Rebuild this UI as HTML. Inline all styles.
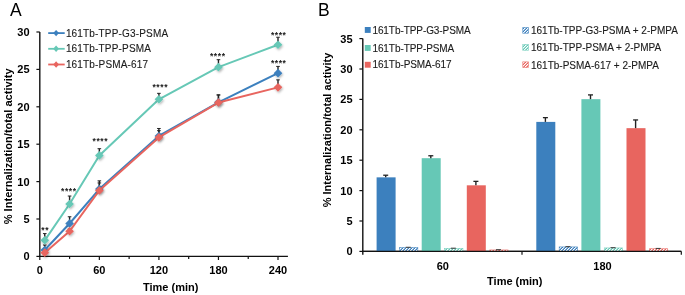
<!DOCTYPE html>
<html><head><meta charset="utf-8"><style>
html,body{margin:0;padding:0;background:#fff;width:685px;height:295px;overflow:hidden}
svg{display:block;will-change:transform}
text{font-family:"Liberation Sans",sans-serif}
</style></head><body>
<svg width="685" height="295" viewBox="0 0 685 295">
<rect width="685" height="295" fill="#fff"/>
<text x="10.1" y="15.8" font-size="17.5" font-family="Liberation Sans, sans-serif" fill="#000">A</text>
<line x1="39.8" y1="32.0" x2="39.8" y2="257.09999999999997" stroke="#111" stroke-width="1.4"/>
<line x1="39.099999999999994" y1="256.4" x2="287.925" y2="256.4" stroke="#111" stroke-width="1.4"/>
<line x1="36.4" y1="256.40" x2="39.8" y2="256.40" stroke="#111" stroke-width="1.2"/>
<text x="29.6" y="260.30" font-size="11" font-weight="bold" text-anchor="end" font-family="Liberation Sans, sans-serif">0</text>
<line x1="36.4" y1="219.00" x2="39.8" y2="219.00" stroke="#111" stroke-width="1.2"/>
<text x="29.6" y="222.90" font-size="11" font-weight="bold" text-anchor="end" font-family="Liberation Sans, sans-serif">5</text>
<line x1="36.4" y1="181.60" x2="39.8" y2="181.60" stroke="#111" stroke-width="1.2"/>
<text x="29.6" y="185.50" font-size="11" font-weight="bold" text-anchor="end" font-family="Liberation Sans, sans-serif">10</text>
<line x1="36.4" y1="144.20" x2="39.8" y2="144.20" stroke="#111" stroke-width="1.2"/>
<text x="29.6" y="148.10" font-size="11" font-weight="bold" text-anchor="end" font-family="Liberation Sans, sans-serif">15</text>
<line x1="36.4" y1="106.80" x2="39.8" y2="106.80" stroke="#111" stroke-width="1.2"/>
<text x="29.6" y="110.70" font-size="11" font-weight="bold" text-anchor="end" font-family="Liberation Sans, sans-serif">20</text>
<line x1="36.4" y1="69.40" x2="39.8" y2="69.40" stroke="#111" stroke-width="1.2"/>
<text x="29.6" y="73.30" font-size="11" font-weight="bold" text-anchor="end" font-family="Liberation Sans, sans-serif">25</text>
<line x1="36.4" y1="32.00" x2="39.8" y2="32.00" stroke="#111" stroke-width="1.2"/>
<text x="29.6" y="35.90" font-size="11" font-weight="bold" text-anchor="end" font-family="Liberation Sans, sans-serif">30</text>
<line x1="39.80" y1="256.4" x2="39.80" y2="260.0" stroke="#111" stroke-width="1.2"/>
<text x="39.80" y="274.4" font-size="11" font-weight="bold" text-anchor="middle" font-family="Liberation Sans, sans-serif">0</text>
<line x1="69.58" y1="256.4" x2="69.58" y2="258.9" stroke="#111" stroke-width="1.2"/>
<line x1="99.35" y1="256.4" x2="99.35" y2="260.0" stroke="#111" stroke-width="1.2"/>
<text x="99.35" y="274.4" font-size="11" font-weight="bold" text-anchor="middle" font-family="Liberation Sans, sans-serif">60</text>
<line x1="129.12" y1="256.4" x2="129.12" y2="258.9" stroke="#111" stroke-width="1.2"/>
<line x1="158.90" y1="256.4" x2="158.90" y2="260.0" stroke="#111" stroke-width="1.2"/>
<text x="158.90" y="274.4" font-size="11" font-weight="bold" text-anchor="middle" font-family="Liberation Sans, sans-serif">120</text>
<line x1="188.68" y1="256.4" x2="188.68" y2="258.9" stroke="#111" stroke-width="1.2"/>
<line x1="218.45" y1="256.4" x2="218.45" y2="260.0" stroke="#111" stroke-width="1.2"/>
<text x="218.45" y="274.4" font-size="11" font-weight="bold" text-anchor="middle" font-family="Liberation Sans, sans-serif">180</text>
<line x1="248.23" y1="256.4" x2="248.23" y2="258.9" stroke="#111" stroke-width="1.2"/>
<line x1="278.00" y1="256.4" x2="278.00" y2="260.0" stroke="#111" stroke-width="1.2"/>
<text x="278.00" y="274.4" font-size="11" font-weight="bold" text-anchor="middle" font-family="Liberation Sans, sans-serif">240</text>
<text x="170.7" y="290.6" font-size="11" font-weight="bold" text-anchor="middle" font-family="Liberation Sans, sans-serif">Time (min)</text>
<text transform="translate(11.6,146.35) rotate(-90)" x="0" y="0" font-size="11.1" font-weight="bold" text-anchor="middle" font-family="Liberation Sans, sans-serif">% Internalization/total activity</text>
<line x1="44.76" y1="250.04" x2="44.76" y2="245.03" stroke="#222" stroke-width="1.4"/>
<line x1="42.96" y1="245.03" x2="46.56" y2="245.03" stroke="#222" stroke-width="1"/>
<line x1="69.58" y1="223.49" x2="69.58" y2="216.76" stroke="#222" stroke-width="1.4"/>
<line x1="67.78" y1="216.76" x2="71.38" y2="216.76" stroke="#222" stroke-width="1"/>
<line x1="99.35" y1="189.08" x2="99.35" y2="180.85" stroke="#222" stroke-width="1.4"/>
<line x1="97.55" y1="180.85" x2="101.15" y2="180.85" stroke="#222" stroke-width="1"/>
<line x1="158.90" y1="135.97" x2="158.90" y2="128.49" stroke="#222" stroke-width="1.4"/>
<line x1="157.10" y1="128.49" x2="160.70" y2="128.49" stroke="#222" stroke-width="1"/>
<line x1="218.45" y1="102.31" x2="218.45" y2="94.83" stroke="#222" stroke-width="1.4"/>
<line x1="216.65" y1="94.83" x2="220.25" y2="94.83" stroke="#222" stroke-width="1"/>
<line x1="278.00" y1="73.14" x2="278.00" y2="66.41" stroke="#222" stroke-width="1.4"/>
<line x1="276.20" y1="66.41" x2="279.80" y2="66.41" stroke="#222" stroke-width="1"/>
<line x1="44.76" y1="240.32" x2="44.76" y2="233.59" stroke="#222" stroke-width="1.4"/>
<line x1="42.96" y1="233.59" x2="46.56" y2="233.59" stroke="#222" stroke-width="1"/>
<line x1="69.58" y1="204.04" x2="69.58" y2="196.04" stroke="#222" stroke-width="1.4"/>
<line x1="67.78" y1="196.04" x2="71.38" y2="196.04" stroke="#222" stroke-width="1"/>
<line x1="99.35" y1="155.42" x2="99.35" y2="148.69" stroke="#222" stroke-width="1.4"/>
<line x1="97.55" y1="148.69" x2="101.15" y2="148.69" stroke="#222" stroke-width="1"/>
<line x1="158.90" y1="99.32" x2="158.90" y2="93.34" stroke="#222" stroke-width="1.4"/>
<line x1="157.10" y1="93.34" x2="160.70" y2="93.34" stroke="#222" stroke-width="1"/>
<line x1="218.45" y1="67.16" x2="218.45" y2="59.68" stroke="#222" stroke-width="1.4"/>
<line x1="216.65" y1="59.68" x2="220.25" y2="59.68" stroke="#222" stroke-width="1"/>
<line x1="278.00" y1="44.72" x2="278.00" y2="37.24" stroke="#222" stroke-width="1.4"/>
<line x1="276.20" y1="37.24" x2="279.80" y2="37.24" stroke="#222" stroke-width="1"/>
<line x1="44.76" y1="252.66" x2="44.76" y2="249.67" stroke="#222" stroke-width="1.4"/>
<line x1="42.96" y1="249.67" x2="46.56" y2="249.67" stroke="#222" stroke-width="1"/>
<line x1="69.58" y1="231.27" x2="69.58" y2="229.02" stroke="#222" stroke-width="1.4"/>
<line x1="67.78" y1="229.02" x2="71.38" y2="229.02" stroke="#222" stroke-width="1"/>
<line x1="99.35" y1="190.43" x2="99.35" y2="182.95" stroke="#222" stroke-width="1.4"/>
<line x1="97.55" y1="182.95" x2="101.15" y2="182.95" stroke="#222" stroke-width="1"/>
<line x1="158.90" y1="137.39" x2="158.90" y2="130.66" stroke="#222" stroke-width="1.4"/>
<line x1="157.10" y1="130.66" x2="160.70" y2="130.66" stroke="#222" stroke-width="1"/>
<line x1="218.45" y1="102.54" x2="218.45" y2="95.06" stroke="#222" stroke-width="1.4"/>
<line x1="216.65" y1="95.06" x2="220.25" y2="95.06" stroke="#222" stroke-width="1"/>
<line x1="278.00" y1="87.35" x2="278.00" y2="79.87" stroke="#222" stroke-width="1.4"/>
<line x1="276.20" y1="79.87" x2="279.80" y2="79.87" stroke="#222" stroke-width="1"/>
<polyline points="44.76,250.04 69.58,223.49 99.35,189.08 158.90,135.97 218.45,102.31 278.00,73.14" fill="none" stroke="#3c80be" stroke-width="2" stroke-linejoin="round"/>
<path d="M44.76 245.74L49.06 250.04L44.76 254.34L40.46 250.04Z" fill="#3c80be" filter="url(#sh)"/>
<path d="M69.58 219.19L73.88 223.49L69.58 227.79L65.28 223.49Z" fill="#3c80be" filter="url(#sh)"/>
<path d="M99.35 184.78L103.65 189.08L99.35 193.38L95.05 189.08Z" fill="#3c80be" filter="url(#sh)"/>
<path d="M158.90 131.67L163.20 135.97L158.90 140.27L154.60 135.97Z" fill="#3c80be" filter="url(#sh)"/>
<path d="M218.45 98.01L222.75 102.31L218.45 106.61L214.15 102.31Z" fill="#3c80be" filter="url(#sh)"/>
<path d="M278.00 68.84L282.30 73.14L278.00 77.44L273.70 73.14Z" fill="#3c80be" filter="url(#sh)"/>
<polyline points="44.76,240.32 69.58,204.04 99.35,155.42 158.90,99.32 218.45,67.16 278.00,44.72" fill="none" stroke="#66c8b6" stroke-width="2" stroke-linejoin="round"/>
<path d="M44.76 236.02L49.06 240.32L44.76 244.62L40.46 240.32Z" fill="#66c8b6" filter="url(#sh)"/>
<path d="M69.58 199.74L73.88 204.04L69.58 208.34L65.28 204.04Z" fill="#66c8b6" filter="url(#sh)"/>
<path d="M99.35 151.12L103.65 155.42L99.35 159.72L95.05 155.42Z" fill="#66c8b6" filter="url(#sh)"/>
<path d="M158.90 95.02L163.20 99.32L158.90 103.62L154.60 99.32Z" fill="#66c8b6" filter="url(#sh)"/>
<path d="M218.45 62.86L222.75 67.16L218.45 71.46L214.15 67.16Z" fill="#66c8b6" filter="url(#sh)"/>
<path d="M278.00 40.42L282.30 44.72L278.00 49.02L273.70 44.72Z" fill="#66c8b6" filter="url(#sh)"/>
<polyline points="44.76,252.66 69.58,231.27 99.35,190.43 158.90,137.39 218.45,102.54 278.00,87.35" fill="none" stroke="#e8655f" stroke-width="2" stroke-linejoin="round"/>
<path d="M44.76 248.36L49.06 252.66L44.76 256.96L40.46 252.66Z" fill="#e8655f" filter="url(#sh)"/>
<path d="M69.58 226.97L73.88 231.27L69.58 235.57L65.28 231.27Z" fill="#e8655f" filter="url(#sh)"/>
<path d="M99.35 186.13L103.65 190.43L99.35 194.73L95.05 190.43Z" fill="#e8655f" filter="url(#sh)"/>
<path d="M158.90 133.09L163.20 137.39L158.90 141.69L154.60 137.39Z" fill="#e8655f" filter="url(#sh)"/>
<path d="M218.45 98.24L222.75 102.54L218.45 106.84L214.15 102.54Z" fill="#e8655f" filter="url(#sh)"/>
<path d="M278.00 83.05L282.30 87.35L278.00 91.65L273.70 87.35Z" fill="#e8655f" filter="url(#sh)"/>
<text x="45.20" y="233.10" font-size="8.5" letter-spacing="0.6" font-weight="bold" text-anchor="middle" fill="#1a1a1a" font-family="Liberation Sans, sans-serif">**</text>
<text x="68.85" y="193.60" font-size="8.5" letter-spacing="0.6" font-weight="bold" text-anchor="middle" fill="#1a1a1a" font-family="Liberation Sans, sans-serif">****</text>
<text x="100.35" y="144.30" font-size="8.5" letter-spacing="0.6" font-weight="bold" text-anchor="middle" fill="#1a1a1a" font-family="Liberation Sans, sans-serif">****</text>
<text x="160.25" y="90.10" font-size="8.5" letter-spacing="0.6" font-weight="bold" text-anchor="middle" fill="#1a1a1a" font-family="Liberation Sans, sans-serif">****</text>
<text x="217.75" y="58.50" font-size="8.5" letter-spacing="0.6" font-weight="bold" text-anchor="middle" fill="#1a1a1a" font-family="Liberation Sans, sans-serif">****</text>
<text x="278.70" y="37.90" font-size="8.5" letter-spacing="0.6" font-weight="bold" text-anchor="middle" fill="#1a1a1a" font-family="Liberation Sans, sans-serif">****</text>
<text x="278.70" y="66.10" font-size="8.5" letter-spacing="0.6" font-weight="bold" text-anchor="middle" fill="#1a1a1a" font-family="Liberation Sans, sans-serif">****</text>
<line x1="48.2" y1="33.1" x2="64.7" y2="33.1" stroke="#3c80be" stroke-width="1.8"/>
<path d="M56.1 29.90L59.0 33.10L56.1 36.30L53.2 33.10Z" fill="#3c80be"/>
<text x="65.9" y="36.70" font-size="10" letter-spacing="0.17" font-family="Liberation Sans, sans-serif" fill="#1c1c1c" stroke="#1c1c1c" stroke-width="0.12">161Tb-TPP-G3-PSMA</text>
<line x1="48.2" y1="48.8" x2="64.7" y2="48.8" stroke="#66c8b6" stroke-width="1.8"/>
<path d="M56.1 45.60L59.0 48.80L56.1 52.00L53.2 48.80Z" fill="#66c8b6"/>
<text x="65.9" y="52.40" font-size="10" letter-spacing="0.17" font-family="Liberation Sans, sans-serif" fill="#1c1c1c" stroke="#1c1c1c" stroke-width="0.12">161Tb-TPP-PSMA</text>
<line x1="48.2" y1="64.5" x2="64.7" y2="64.5" stroke="#e8655f" stroke-width="1.8"/>
<path d="M56.1 61.30L59.0 64.50L56.1 67.70L53.2 64.50Z" fill="#e8655f"/>
<text x="65.9" y="68.10" font-size="10" letter-spacing="0.17" font-family="Liberation Sans, sans-serif" fill="#1c1c1c" stroke="#1c1c1c" stroke-width="0.12">161Tb-PSMA-617</text>
<text x="317.9" y="15.7" font-size="17.5" font-family="Liberation Sans, sans-serif" fill="#000">B</text>
<line x1="362.8" y1="38.599999999999994" x2="362.8" y2="254.70000000000002" stroke="#111" stroke-width="1.4"/>
<line x1="362.1" y1="251.4" x2="681.3" y2="251.4" stroke="#111" stroke-width="1.4"/>
<line x1="522.0" y1="251.4" x2="522.0" y2="254.70000000000002" stroke="#111" stroke-width="1.2"/>
<line x1="681.3" y1="251.4" x2="681.3" y2="254.70000000000002" stroke="#111" stroke-width="1.2"/>
<line x1="359.40000000000003" y1="251.40" x2="362.8" y2="251.40" stroke="#111" stroke-width="1.2"/>
<text x="352.6" y="255.30" font-size="11" font-weight="bold" text-anchor="end" font-family="Liberation Sans, sans-serif">0</text>
<line x1="359.40000000000003" y1="221.00" x2="362.8" y2="221.00" stroke="#111" stroke-width="1.2"/>
<text x="352.6" y="224.90" font-size="11" font-weight="bold" text-anchor="end" font-family="Liberation Sans, sans-serif">5</text>
<line x1="359.40000000000003" y1="190.60" x2="362.8" y2="190.60" stroke="#111" stroke-width="1.2"/>
<text x="352.6" y="194.50" font-size="11" font-weight="bold" text-anchor="end" font-family="Liberation Sans, sans-serif">10</text>
<line x1="359.40000000000003" y1="160.20" x2="362.8" y2="160.20" stroke="#111" stroke-width="1.2"/>
<text x="352.6" y="164.10" font-size="11" font-weight="bold" text-anchor="end" font-family="Liberation Sans, sans-serif">15</text>
<line x1="359.40000000000003" y1="129.80" x2="362.8" y2="129.80" stroke="#111" stroke-width="1.2"/>
<text x="352.6" y="133.70" font-size="11" font-weight="bold" text-anchor="end" font-family="Liberation Sans, sans-serif">20</text>
<line x1="359.40000000000003" y1="99.40" x2="362.8" y2="99.40" stroke="#111" stroke-width="1.2"/>
<text x="352.6" y="103.30" font-size="11" font-weight="bold" text-anchor="end" font-family="Liberation Sans, sans-serif">25</text>
<line x1="359.40000000000003" y1="69.00" x2="362.8" y2="69.00" stroke="#111" stroke-width="1.2"/>
<text x="352.6" y="72.90" font-size="11" font-weight="bold" text-anchor="end" font-family="Liberation Sans, sans-serif">30</text>
<line x1="359.40000000000003" y1="38.60" x2="362.8" y2="38.60" stroke="#111" stroke-width="1.2"/>
<text x="352.6" y="42.50" font-size="11" font-weight="bold" text-anchor="end" font-family="Liberation Sans, sans-serif">35</text>
<text x="442.8" y="270.2" font-size="11" font-weight="bold" text-anchor="middle" font-family="Liberation Sans, sans-serif">60</text>
<text x="602.5" y="270.2" font-size="11" font-weight="bold" text-anchor="middle" font-family="Liberation Sans, sans-serif">180</text>
<text x="514.8" y="284.8" font-size="11" font-weight="bold" text-anchor="middle" font-family="Liberation Sans, sans-serif">Time (min)</text>
<text transform="translate(331.0,130.0) rotate(-90)" x="0" y="0" font-size="11" font-weight="bold" text-anchor="middle" font-family="Liberation Sans, sans-serif">% Internalization/total activity</text>
<defs><filter id="sh" x="-50%" y="-50%" width="200%" height="200%"><feDropShadow dx="0.8" dy="1.3" stdDeviation="0.9" flood-color="#000" flood-opacity="0.3"/></filter>
<pattern id="hb" patternUnits="userSpaceOnUse" x="0" y="0" width="3" height="3" shape-rendering="crispEdges"><rect width="3" height="3" fill="#3c80be"/><rect x="0" y="0" width="1" height="1" fill="#fff"/><rect x="2" y="1" width="1" height="1" fill="#fff"/><rect x="1" y="2" width="1" height="1" fill="#fff"/><rect x="1" y="0" width="1" height="1" fill="#fff" fill-opacity="0.45"/><rect x="0" y="1" width="1" height="1" fill="#fff" fill-opacity="0.45"/><rect x="2" y="2" width="1" height="1" fill="#fff" fill-opacity="0.45"/></pattern>
<pattern id="ht" patternUnits="userSpaceOnUse" x="0" y="0" width="3" height="3" shape-rendering="crispEdges"><rect width="3" height="3" fill="#66c8b6"/><rect x="0" y="0" width="1" height="1" fill="#fff"/><rect x="2" y="1" width="1" height="1" fill="#fff"/><rect x="1" y="2" width="1" height="1" fill="#fff"/><rect x="1" y="0" width="1" height="1" fill="#fff" fill-opacity="0.45"/><rect x="0" y="1" width="1" height="1" fill="#fff" fill-opacity="0.45"/><rect x="2" y="2" width="1" height="1" fill="#fff" fill-opacity="0.45"/></pattern>
<pattern id="hr" patternUnits="userSpaceOnUse" x="0" y="0" width="3" height="3" shape-rendering="crispEdges"><rect width="3" height="3" fill="#e8655f"/><rect x="0" y="0" width="1" height="1" fill="#fff"/><rect x="2" y="1" width="1" height="1" fill="#fff"/><rect x="1" y="2" width="1" height="1" fill="#fff"/><rect x="1" y="0" width="1" height="1" fill="#fff" fill-opacity="0.45"/><rect x="0" y="1" width="1" height="1" fill="#fff" fill-opacity="0.45"/><rect x="2" y="2" width="1" height="1" fill="#fff" fill-opacity="0.45"/></pattern>
</defs>
<rect x="376.60" y="177.35" width="19.0" height="74.05" fill="#3c80be"/>
<line x1="385.70" y1="177.35" x2="385.70" y2="175.22" stroke="#222" stroke-width="1.4"/>
<line x1="383.20" y1="175.22" x2="388.20" y2="175.22" stroke="#222" stroke-width="1.3"/>
<rect x="399.50" y="247.55" width="18.30" height="3.85" fill="url(#hb)" stroke="#3c80be" stroke-width="0.7" stroke-opacity="0.75"/>
<line x1="408.25" y1="247.20" x2="408.25" y2="247.20" stroke="#222" stroke-width="1.4"/>
<line x1="405.75" y1="247.30" x2="410.75" y2="247.30" stroke="#444" stroke-width="1.1"/>
<rect x="421.70" y="158.19" width="19.0" height="93.21" fill="#66c8b6"/>
<line x1="430.80" y1="158.19" x2="430.80" y2="155.76" stroke="#222" stroke-width="1.4"/>
<line x1="428.30" y1="155.76" x2="433.30" y2="155.76" stroke="#222" stroke-width="1.3"/>
<rect x="444.60" y="248.47" width="18.30" height="2.93" fill="url(#ht)" stroke="#66c8b6" stroke-width="0.7" stroke-opacity="0.75"/>
<line x1="453.35" y1="248.12" x2="453.35" y2="248.12" stroke="#222" stroke-width="1.4"/>
<line x1="450.85" y1="248.22" x2="455.85" y2="248.22" stroke="#444" stroke-width="1.1"/>
<rect x="466.80" y="185.31" width="19.0" height="66.09" fill="#e8655f"/>
<line x1="475.90" y1="185.31" x2="475.90" y2="181.36" stroke="#222" stroke-width="1.4"/>
<line x1="473.40" y1="181.36" x2="478.40" y2="181.36" stroke="#222" stroke-width="1.3"/>
<rect x="489.70" y="249.93" width="18.30" height="1.47" fill="url(#hr)" stroke="#e8655f" stroke-width="0.7" stroke-opacity="0.75"/>
<line x1="498.45" y1="249.58" x2="498.45" y2="249.58" stroke="#222" stroke-width="1.4"/>
<line x1="495.95" y1="249.68" x2="500.95" y2="249.68" stroke="#444" stroke-width="1.1"/>
<rect x="536.30" y="121.90" width="19.0" height="129.50" fill="#3c80be"/>
<line x1="545.40" y1="121.90" x2="545.40" y2="117.64" stroke="#222" stroke-width="1.4"/>
<line x1="542.90" y1="117.64" x2="547.90" y2="117.64" stroke="#222" stroke-width="1.3"/>
<rect x="559.20" y="246.89" width="18.30" height="4.51" fill="url(#hb)" stroke="#3c80be" stroke-width="0.7" stroke-opacity="0.75"/>
<line x1="567.95" y1="246.54" x2="567.95" y2="246.54" stroke="#222" stroke-width="1.4"/>
<line x1="565.45" y1="246.64" x2="570.45" y2="246.64" stroke="#444" stroke-width="1.1"/>
<rect x="581.40" y="99.16" width="19.0" height="152.24" fill="#66c8b6"/>
<line x1="590.50" y1="99.16" x2="590.50" y2="94.90" stroke="#222" stroke-width="1.4"/>
<line x1="588.00" y1="94.90" x2="593.00" y2="94.90" stroke="#222" stroke-width="1.3"/>
<rect x="604.30" y="247.92" width="18.30" height="3.48" fill="url(#ht)" stroke="#66c8b6" stroke-width="0.7" stroke-opacity="0.75"/>
<line x1="613.05" y1="247.57" x2="613.05" y2="247.57" stroke="#222" stroke-width="1.4"/>
<line x1="610.55" y1="247.67" x2="615.55" y2="247.67" stroke="#444" stroke-width="1.1"/>
<rect x="626.50" y="128.16" width="19.0" height="123.24" fill="#e8655f"/>
<line x1="635.60" y1="128.16" x2="635.60" y2="119.95" stroke="#222" stroke-width="1.4"/>
<line x1="633.10" y1="119.95" x2="638.10" y2="119.95" stroke="#222" stroke-width="1.3"/>
<rect x="649.40" y="248.71" width="18.30" height="2.69" fill="url(#hr)" stroke="#e8655f" stroke-width="0.7" stroke-opacity="0.75"/>
<line x1="658.15" y1="248.36" x2="658.15" y2="248.36" stroke="#222" stroke-width="1.4"/>
<line x1="655.65" y1="248.46" x2="660.65" y2="248.46" stroke="#444" stroke-width="1.1"/>
<line x1="362.1" y1="251.4" x2="681.3" y2="251.4" stroke="#111" stroke-width="1.4"/>
<rect x="364.8" y="27.00" width="5.9" height="5.9" fill="#3c80be"/>
<text x="372.4" y="33.50" font-size="10" letter-spacing="-0.07" font-family="Liberation Sans, sans-serif" fill="#1c1c1c" stroke="#1c1c1c" stroke-width="0.12">161Tb-TPP-G3-PSMA</text>
<rect x="364.8" y="45.00" width="5.9" height="5.9" fill="#66c8b6"/>
<text x="372.4" y="51.50" font-size="10" letter-spacing="-0.07" font-family="Liberation Sans, sans-serif" fill="#1c1c1c" stroke="#1c1c1c" stroke-width="0.12">161Tb-TPP-PSMA</text>
<rect x="364.8" y="61.80" width="5.9" height="5.9" fill="#e8655f"/>
<text x="372.4" y="68.30" font-size="10" letter-spacing="-0.07" font-family="Liberation Sans, sans-serif" fill="#1c1c1c" stroke="#1c1c1c" stroke-width="0.12">161Tb-PSMA-617</text>
<rect x="522.75" y="27.55" width="5.7" height="5.7" fill="url(#hb)" stroke="#3c80be" stroke-width="0.7" stroke-opacity="0.75"/>
<text x="531.0" y="34.20" font-size="10" font-family="Liberation Sans, sans-serif" fill="#1c1c1c" stroke="#1c1c1c" stroke-width="0.12">161Tb-TPP-G3-PSMA + 2-PMPA</text>
<rect x="522.75" y="44.55" width="5.7" height="5.7" fill="url(#ht)" stroke="#66c8b6" stroke-width="0.7" stroke-opacity="0.75"/>
<text x="531.0" y="51.20" font-size="10" font-family="Liberation Sans, sans-serif" fill="#1c1c1c" stroke="#1c1c1c" stroke-width="0.12">161Tb-TPP-PSMA + 2-PMPA</text>
<rect x="522.75" y="61.85" width="5.7" height="5.7" fill="url(#hr)" stroke="#e8655f" stroke-width="0.7" stroke-opacity="0.75"/>
<text x="531.0" y="68.50" font-size="10" font-family="Liberation Sans, sans-serif" fill="#1c1c1c" stroke="#1c1c1c" stroke-width="0.12">161Tb-PSMA-617 + 2-PMPA</text>
</svg>
</body></html>
